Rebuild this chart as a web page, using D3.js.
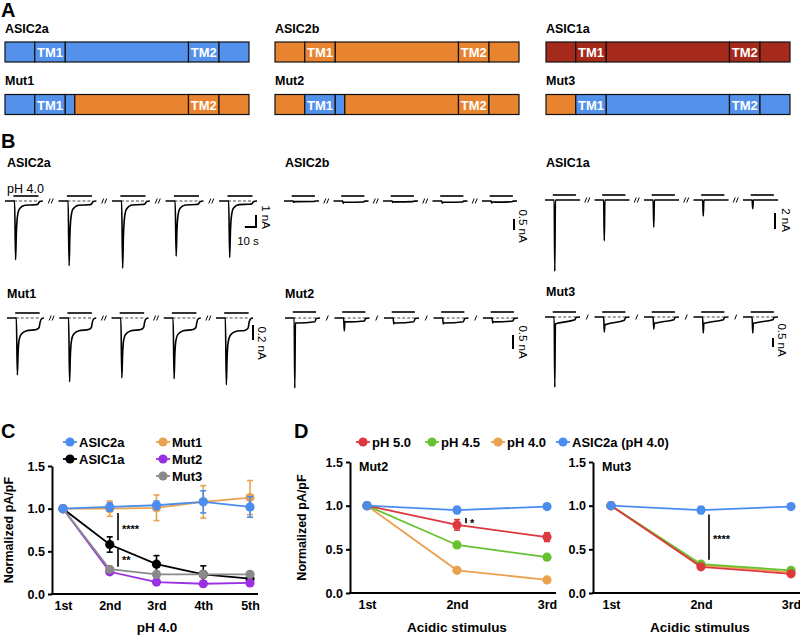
<!DOCTYPE html>
<html>
<head>
<meta charset="utf-8">
<script src="https://cdn.jsdelivr.net/npm/d3@7"></script>
<style>
  body { margin: 0; background: #fff; }
  svg { font-family: "Liberation Sans", Arial, sans-serif; }
</style>
</head>
<body>
<svg id="fig" width="800" height="635"></svg>
<script>
// ---------- A: domain maps (position along channel, 0-100) ----------
const CONSTRUCTS = ['ASIC2a', 'ASIC2b', 'ASIC1a', 'Mut1', 'Mut2', 'Mut3'];
const SEG_ASIC2A = [[0, 12.2, 'a2a'], [12.2, 24.7, 'a2a', 'TM1'], [24.7, 75.2, 'a2a'], [75.2, 87.7, 'a2a', 'TM2'], [87.7, 100, 'a2a']];
const SEG_ASIC2B = [[0, 12.2, 'a2b'], [12.2, 24.7, 'a2b', 'TM1'], [24.7, 75.2, 'a2b'], [75.2, 87.7, 'a2b', 'TM2'], [87.7, 100, 'a2b']];
const SEG_ASIC1A = [[0, 12.2, 'a1a'], [12.2, 24.7, 'a1a', 'TM1'], [24.7, 75.2, 'a1a'], [75.2, 87.7, 'a1a', 'TM2'], [87.7, 100, 'a1a']];
const SEG_MUT1 = [[0, 12.2, 'a2a'], [12.2, 24.7, 'a2a', 'TM1'], [24.7, 28.6, 'a2a'], [28.6, 75.2, 'a2b'], [75.2, 87.7, 'a2b', 'TM2'], [87.7, 100, 'a2b']];
const SEG_MUT2 = [[0, 12.2, 'a2b'], [12.2, 24.7, 'a2a', 'TM1'], [24.7, 28.6, 'a2a'], [28.6, 75.2, 'a2b'], [75.2, 87.7, 'a2b', 'TM2'], [87.7, 100, 'a2b']];
const SEG_MUT3 = [[0, 12.2, 'a2b'], [12.2, 24.7, 'a2a', 'TM1'], [24.7, 75.2, 'a2a'], [75.2, 87.7, 'a2a', 'TM2'], [87.7, 100, 'a2a']];

// ---------- B: traces, peak / sustained current per sweep (nA) ----------
const PEAK_ASIC2A = [4.9, 5.4, 5.6, 4.6, 4.7];
const SUS_ASIC2A = [0.35, 0.35, 0.33, 0.33, 0.3];
const PEAK_ASIC2B = [0.06, 0.1, 0.07, 0.1, 0.09];
const SUS_ASIC2B = [0.03, 0.06, 0.04, 0.06, 0.05];
const PEAK_ASIC1A = [8.9, 5.1, 3.4, 2.0, 1.1];
const SUS_ASIC1A = [0, 0, 0, 0, 0];
const PEAK_MUT1 = [0.76, 0.85, 0.8, 0.81, 0.89];
const SUS_MUT1 = [0.17, 0.17, 0.17, 0.17, 0.18];
const PEAK_MUT2 = [2.5, 0.46, 0.21, 0.21, 0.18];
const SUS_MUT2 = [0.18, 0.14, 0.18, 0.18, 0.14];
const PEAK_MUT3 = [3.9, 0.83, 0.67, 0.89, 0.89];
const SUS_MUT3 = [0.35, 0.4, 0.33, 0.33, 0.33];

// waveform key points: [time s, weight of peak, weight of sustained]
const SHAPE_SLOW = [[0, 0, 0], [8.6, 0, 0], [9.5, 1, 0], [10.2, 0.5, 0.5], [11.2, 0.2, 0.8], [13, 0.06, 1], [18, 0, 1], [27, 0, 0.9], [29.5, 0, 0.75], [30.5, 0, 0.3], [32, 0, 0.05], [34, 0, 0]];
const SHAPE_FAST = [[0, 0, 0], [8.9, 0, 0], [9.5, 1, 0], [10.1, 0, 0.95], [12, 0, 1], [29, 0, 0.75], [30.3, 0, 0.1], [34, 0, 0]];
const SHAPE_DECAY = [[0, 0, 0], [8.9, 0, 0], [9.5, 1, 0], [10.1, 0, 1.1], [12, 0, 1], [29, 0, 0.45], [30.3, 0, 0.05], [34, 0, 0]];
const SWEEP_LEN = 34, SWEEP_PERIOD = 48, STIM_ON = 7.5, STIM_OFF = 30;

// ---------- C: normalized pA/pF over five pH 4.0 pulses ----------
const PULSES = ['1st', '2nd', '3rd', '4th', '5th'];
const C_ASIC2A = [1.0, 1.02, 1.04, 1.08, 1.02];
const C_ASIC2A_ERR = [0, 0.05, 0.05, 0.13, 0.12];
const C_ASIC1A = [1.0, 0.58, 0.35, 0.23, 0.18];
const C_ASIC1A_ERR = [0, 0.09, 0.1, 0.1, 0.03];
const C_MUT1 = [1.0, 1.0, 1.01, 1.08, 1.13];
const C_MUT1_ERR = [0, 0.09, 0.15, 0.19, 0.2];
const C_MUT2 = [1.0, 0.26, 0.14, 0.12, 0.13];
const C_MUT2_ERR = [0, 0.03, 0.03, 0.03, 0.03];
const C_MUT3 = [1.0, 0.29, 0.23, 0.23, 0.23];
const C_MUT3_ERR = [0, 0.03, 0.03, 0.03, 0.03];

// ---------- D: repeated acidic stimuli ----------
const STIMULI = ['1st', '2nd', '3rd'];
const D_MUT2_PH50 = [1.0, 0.78, 0.64], D_MUT2_PH50_ERR = [0, 0.06, 0.05];
const D_MUT2_PH45 = [1.0, 0.55, 0.41], D_MUT2_PH45_ERR = [0, 0.02, 0.02];
const D_MUT2_PH40 = [1.0, 0.26, 0.15], D_MUT2_PH40_ERR = [0, 0.02, 0.02];
const D_MUT2_2A = [1.0, 0.95, 0.99], D_MUT2_2A_ERR = [0, 0.04, 0.02];
const D_MUT3_PH50 = [1.0, 0.30, 0.22], D_MUT3_PH50_ERR = [0, 0.02, 0.02];
const D_MUT3_PH45 = [1.0, 0.33, 0.26], D_MUT3_PH45_ERR = [0, 0.02, 0.02];
const D_MUT3_PH40 = [1.0, 0.32, 0.24], D_MUT3_PH40_ERR = [0, 0.02, 0.02];
const D_MUT3_2A = [1.0, 0.95, 0.99], D_MUT3_2A_ERR = [0, 0.04, 0.02];

// ---------- colours ----------
const BAR_COLORS = { a2a: '#5391ea', a2b: '#e8842f', a1a: '#a62a1b' };
const COL = { blue: '#4b8def', black: '#000', orange: '#eaa24f', purple: '#9a2fe3', gray: '#8a8a8a', red: '#dc383e', green: '#67c230' };

const svg = d3.select('#fig');

function letter(x, y, t) {
    svg.append('text').attr('x', x).attr('y', y)
        .attr('font-size', 20).attr('font-weight', 'bold').text(t);
}

// ================= A =================
letter(1, 17, 'A');
const SEGMENTS = [SEG_ASIC2A, SEG_ASIC2B, SEG_ASIC1A, SEG_MUT1, SEG_MUT2, SEG_MUT3];
const colX = [5, 275, 546];
const rowTop = [42, 94.5];
const rowLabelY = [33, 85];

CONSTRUCTS.forEach((name, i) => {
    const col = i % 3, row = Math.floor(i / 3);
    const x = d3.scaleLinear().domain([0, 100]).range([colX[col], colX[col] + 244]);
    const g = svg.append('g');
    g.append('text').attr('x', colX[col]).attr('y', rowLabelY[row])
        .attr('font-size', 12.5).attr('font-weight', 'bold').text(name);
    g.selectAll('rect').data(SEGMENTS[i]).join('rect')
        .attr('x', d => x(d[0])).attr('width', d => x(d[1]) - x(d[0]))
        .attr('y', rowTop[row]).attr('height', 20)
        .attr('fill', d => BAR_COLORS[d[2]])
        .attr('stroke', '#111').attr('stroke-width', 1.2);
    g.selectAll('text.tm').data(SEGMENTS[i].filter(d => d[3])).join('text')
        .attr('class', 'tm')
        .attr('x', d => (x(d[0]) + x(d[1])) / 2).attr('y', rowTop[row] + 15)
        .attr('text-anchor', 'middle').attr('fill', '#fff')
        .attr('font-size', 13).attr('font-weight', 'bold').text(d => d[3]);
});

// ================= B =================
letter(1, 148, 'B');
const TRACE_PANELS = [
    { name: 'ASIC2a', peak: PEAK_ASIC2A, sus: SUS_ASIC2A, shape: SHAPE_SLOW, x0: 5, x1: 257, base: 201, barY: 196, pxPerNA: 12, dashed: true, dbl: true, lx: 7, ly: 167, sb: [256, 215, 1, '1 nA', 262, 217] },
    { name: 'ASIC2b', peak: PEAK_ASIC2B, sus: SUS_ASIC2B, shape: SHAPE_FAST, x0: 284, x1: 517, base: 201, barY: 196, pxPerNA: 22, dashed: false, dbl: true, lx: 285, ly: 167, sb: [514, 219, 0.5, '0.5 nA', 519, 226] },
    { name: 'ASIC1a', peak: PEAK_ASIC1A, sus: SUS_ASIC1A, shape: SHAPE_FAST, x0: 545, x1: 778, base: 200, barY: 195, pxPerNA: 8, dashed: false, dbl: true, lx: 546, ly: 167, sb: [775, 213, 2, '2 nA', 782, 220] },
    { name: 'Mut1', peak: PEAK_MUT1, sus: SUS_MUT1, shape: SHAPE_SLOW, x0: 7, x1: 253, base: 318, barY: 313, pxPerNA: 75, dashed: true, dbl: true, lx: 7, ly: 298, sb: [253, 325, 0.2, '0.2 nA', 258, 343] },
    { name: 'Mut2', peak: PEAK_MUT2, sus: SUS_MUT2, shape: SHAPE_FAST, x0: 285, x1: 518, base: 318, barY: 312, pxPerNA: 28, dashed: true, dbl: false, lx: 285, ly: 298, sb: [513, 335, 0.5, '0.5 nA', 519, 342] },
    { name: 'Mut3', peak: PEAK_MUT3, sus: SUS_MUT3, shape: SHAPE_DECAY, x0: 545, x1: 778, base: 317, barY: 312, pxPerNA: 18, dashed: true, dbl: false, lx: 546, ly: 296, sb: [773, 338, 0.5, '0.5 nA', 778, 340] }
];

TRACE_PANELS.forEach(p => {
    const g = svg.append('g');
    const x = d3.scaleLinear().domain([0, 4 * SWEEP_PERIOD + SWEEP_LEN]).range([p.x0, p.x1]);
    const y = d3.scaleLinear().domain([0, -1]).range([p.base, p.base + p.pxPerNA]);
    const line = d3.line().x(d => x(d[0])).y(d => y(d[1])).curve(d3.curveMonotoneX);

    g.append('text').attr('x', p.lx).attr('y', p.ly)
        .attr('font-size', 12.5).attr('font-weight', 'bold').text(p.name);

    p.peak.forEach((pk, i) => {
        const t0 = i * SWEEP_PERIOD;
        const pts = p.shape.map(s => [t0 + s[0], -(s[1] * pk + s[2] * p.sus[i])]);
        // stimulus bar
        g.append('line')
            .attr('x1', x(t0 + STIM_ON)).attr('x2', x(t0 + STIM_OFF))
            .attr('y1', p.barY).attr('y2', p.barY)
            .attr('stroke', '#000').attr('stroke-width', 1.6);
        if (p.dashed) {
            g.append('line')
                .attr('x1', x(t0 + STIM_ON + 0.5)).attr('x2', x(t0 + STIM_OFF + 1))
                .attr('y1', y(0)).attr('y2', y(0))
                .attr('stroke', '#333').attr('stroke-width', 0.9)
                .attr('stroke-dasharray', '3,2');
        }
        g.append('path').attr('d', line(pts))
            .attr('fill', 'none').attr('stroke', '#000')
            .attr('stroke-width', 1.6).attr('stroke-linejoin', 'round');
        // break marks between sweeps
        if (i < p.peak.length - 1) {
            const bx = x(t0 + SWEEP_LEN + (SWEEP_PERIOD - SWEEP_LEN) / 2);
            const offs = p.dbl ? [-1.5, 1.5] : [0];
            offs.forEach(o => {
                g.append('line')
                    .attr('x1', bx + o - 1).attr('y1', y(0) + 2.5)
                    .attr('x2', bx + o + 1).attr('y2', y(0) - 2.5)
                    .attr('stroke', '#000').attr('stroke-width', 1);
            });
        }
    });

    // scale bar
    const [sx, sy, nA, label, tx, ty] = p.sb;
    const len = y(-nA) - y(0);
    g.append('line').attr('x1', sx).attr('x2', sx).attr('y1', sy).attr('y2', sy + len)
        .attr('stroke', '#000').attr('stroke-width', 2);
    g.append('text').attr('transform', `translate(${tx},${ty}) rotate(90)`)
        .attr('text-anchor', 'middle').attr('font-size', 11.5).text(label);
    if (p.name === 'ASIC2a') {
        const tl = x(10) - x(0);
        g.append('line').attr('x1', sx - tl).attr('x2', sx + 1).attr('y1', sy + len).attr('y2', sy + len)
            .attr('stroke', '#000').attr('stroke-width', 2);
        g.append('text').attr('x', 248).attr('y', 245).attr('text-anchor', 'middle')
            .attr('font-size', 11.5).text('10 s');
        g.append('text').attr('x', 7).attr('y', 193).attr('font-size', 12.5).text('pH 4.0');
    }
});

// ================= C & D =================
function drawPlot(cfg) {
    const g = svg.append('g');
    const x = d3.scalePoint().domain(cfg.cats).range([cfg.xFirst, cfg.xLast]);
    const y = d3.scaleLinear().domain([0, 1.5]).range([cfg.yBottom, cfg.yTop]);

    const yAxis = d3.axisLeft(y).tickValues([0, 0.5, 1, 1.5])
        .tickFormat(d3.format('.1f')).tickSize(4).tickSizeOuter(0).tickPadding(3);
    const yg = g.append('g').attr('transform', `translate(${cfg.axisX},0)`).call(yAxis);
    const xAxis = d3.axisBottom(x).tickSize(0).tickPadding(7);
    const xg = g.append('g').attr('transform', `translate(0,${cfg.yBottom})`).call(xAxis);
    xg.select('.domain').remove();
    g.append('line').attr('x1', cfg.axisX - 1).attr('x2', cfg.axisRight)
        .attr('y1', cfg.yBottom).attr('y2', cfg.yBottom)
        .attr('stroke', '#000').attr('stroke-width', 2);
    [yg, xg].forEach(a => {
        a.selectAll('.domain, .tick line').attr('stroke', '#000').attr('stroke-width', 2);
        a.selectAll('.tick text').attr('fill', '#000').attr('font-size', 12.5)
            .attr('font-weight', 'bold').attr('font-family', '"Liberation Sans", Arial, sans-serif');
    });

    if (cfg.yTitleX != null) {
        g.append('text')
            .attr('transform', `translate(${cfg.yTitleX},${(cfg.yTop + cfg.yBottom) / 2}) rotate(-90)`)
            .attr('text-anchor', 'middle').attr('font-size', 12.5).attr('font-weight', 'bold')
            .text('Normalized pA/pF');
    }
    g.append('text').attr('x', cfg.xTitleX).attr('y', 632).attr('text-anchor', 'middle')
        .attr('font-size', 13.5).attr('font-weight', 'bold').text(cfg.xTitle);
    if (cfg.title) {
        g.append('text').attr('x', cfg.axisX + 9).attr('y', cfg.yTop + 9)
            .attr('font-size', 12.5).attr('font-weight', 'bold').text(cfg.title);
    }

    const line = d3.line().x((d, i) => x(cfg.cats[i])).y(d => y(d));
    cfg.series.forEach(s => {
        const sg = g.append('g');
        sg.append('path').attr('d', line(s.values))
            .attr('fill', 'none').attr('stroke', s.color).attr('stroke-width', 1.8);
        const pts = s.values.map((v, i) => ({ c: cfg.cats[i], v, e: s.err[i] })).filter(d => d.e > 0);
        sg.selectAll('line.eb').data(pts).join('line').attr('class', 'eb')
            .attr('x1', d => x(d.c)).attr('x2', d => x(d.c))
            .attr('y1', d => y(d.v - d.e)).attr('y2', d => y(d.v + d.e))
            .attr('stroke', s.color).attr('stroke-width', 1.6);
        [-1, 1].forEach(sgn => {
            sg.selectAll('line.cap' + sgn).data(pts).join('line').attr('class', 'cap' + sgn)
                .attr('x1', d => x(d.c) - 3).attr('x2', d => x(d.c) + 3)
                .attr('y1', d => y(d.v + sgn * d.e)).attr('y2', d => y(d.v + sgn * d.e))
                .attr('stroke', s.color).attr('stroke-width', 1.6);
        });
        sg.selectAll('circle').data(s.values).join('circle')
            .attr('cx', (d, i) => x(cfg.cats[i])).attr('cy', d => y(d))
            .attr('r', 4.6).attr('fill', s.color);
    });

    (cfg.sig || []).forEach(s => {
        g.append('line').attr('x1', s[0]).attr('x2', s[0])
            .attr('y1', y(s[1])).attr('y2', y(s[2]))
            .attr('stroke', '#000').attr('stroke-width', 1.6);
        g.append('text').attr('x', s[0] + 4).attr('y', (y(s[1]) + y(s[2])) / 2 + 6)
            .attr('font-size', 11).attr('font-weight', 'bold').text(s[3]);
    });
    return { x, y };
}

function legendItem(mx, my, color, label) {
    svg.append('line').attr('x1', mx - 7).attr('x2', mx + 7).attr('y1', my).attr('y2', my)
        .attr('stroke', color).attr('stroke-width', 1.8);
    svg.append('circle').attr('cx', mx).attr('cy', my).attr('r', 4.6).attr('fill', color);
    svg.append('text').attr('x', mx + 9).attr('y', my + 4.6)
        .attr('font-size', 13).attr('font-weight', 'bold').text(label);
}

// ---- C ----
letter(1, 438, 'C');
drawPlot({
    cats: PULSES, xFirst: 63, xLast: 250, axisX: 52, axisRight: 258,
    yTop: 466, yBottom: 594, yTitleX: 13, xTitleX: 157, xTitle: 'pH 4.0',
    series: [
        { values: C_ASIC1A, err: C_ASIC1A_ERR, color: COL.black },
        { values: C_MUT2, err: C_MUT2_ERR, color: COL.purple },
        { values: C_MUT3, err: C_MUT3_ERR, color: COL.gray },
        { values: C_MUT1, err: C_MUT1_ERR, color: COL.orange },
        { values: C_ASIC2A, err: C_ASIC2A_ERR, color: COL.blue }
    ],
    sig: [[118, 0.63, 0.95, '****'], [118, 0.32, 0.53, '**']]
});
legendItem(70, 442, COL.blue, 'ASIC2a');
legendItem(70, 459, COL.black, 'ASIC1a');
legendItem(163, 442, COL.orange, 'Mut1');
legendItem(163, 459, COL.purple, 'Mut2');
legendItem(163, 476, COL.gray, 'Mut3');

// ---- D ----
letter(294, 438, 'D');
legendItem(363, 442, COL.red, 'pH 5.0');
legendItem(432, 442, COL.green, 'pH 4.5');
legendItem(498, 442, COL.orange, 'pH 4.0');
legendItem(563, 442, COL.blue, 'ASIC2a (pH 4.0)');

drawPlot({
    cats: STIMULI, xFirst: 367, xLast: 547, axisX: 350, axisRight: 556,
    yTop: 462, yBottom: 593, yTitleX: 306, xTitleX: 457, xTitle: 'Acidic stimulus', title: 'Mut2',
    series: [
        { values: D_MUT2_PH40, err: D_MUT2_PH40_ERR, color: COL.orange },
        { values: D_MUT2_PH45, err: D_MUT2_PH45_ERR, color: COL.green },
        { values: D_MUT2_PH50, err: D_MUT2_PH50_ERR, color: COL.red },
        { values: D_MUT2_2A, err: D_MUT2_2A_ERR, color: COL.blue }
    ],
    sig: [[466, 0.8, 0.86, '*']]
});
drawPlot({
    cats: STIMULI, xFirst: 611, xLast: 791, axisX: 593, axisRight: 800,
    yTop: 462, yBottom: 593, yTitleX: null, xTitleX: 700, xTitle: 'Acidic stimulus', title: 'Mut3',
    series: [
        { values: D_MUT3_PH40, err: D_MUT3_PH40_ERR, color: COL.orange },
        { values: D_MUT3_PH45, err: D_MUT3_PH45_ERR, color: COL.green },
        { values: D_MUT3_PH50, err: D_MUT3_PH50_ERR, color: COL.red },
        { values: D_MUT3_2A, err: D_MUT3_2A_ERR, color: COL.blue }
    ],
    sig: [[709, 0.38, 0.9, '****']]
});
</script>
</body>
</html>
